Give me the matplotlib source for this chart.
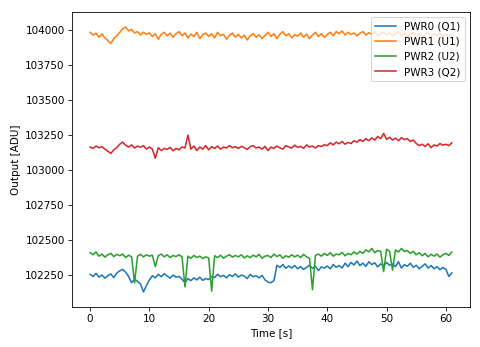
import matplotlib.pyplot as plt
import numpy as np

# samples every 0.5 s
pwr0 = [102255, 102240, 102262, 102235, 102250, 102228, 102245, 102258, 102232, 102265,
        102280, 102290, 102270, 102240, 102195, 102220, 102205, 102185, 102130, 102175,
        102215, 102245, 102230, 102255, 102238, 102260, 102242, 102228, 102250, 102235,
        102240, 102220, 102195, 102225, 102210, 102230, 102215, 102235, 102212, 102225,
        102218, 102240, 102232, 102255, 102238, 102248, 102230, 102252, 102240, 102258,
        102235, 102250, 102242, 102225, 102255, 102238, 102245, 102230, 102248, 102215,
        102200, 102195, 102210, 102320, 102305, 102325, 102298, 102315, 102300, 102318,
        102295, 102310, 102290, 102305, 102320, 102298, 102312, 102282, 102308, 102300,
        102315, 102295, 102325, 102305, 102318, 102300, 102335, 102310, 102340, 102322,
        102350, 102318, 102335, 102312, 102345, 102325, 102338, 102308, 102330, 102315,
        102340, 102320, 102330, 102310, 102345, 102300, 102325, 102312, 102335, 102305,
        102320, 102295, 102312, 102330, 102300, 102318, 102295, 102310, 102288, 102305,
        102290, 102240, 102265]

pwr1 = [103985, 103965, 103978, 103950, 103972, 103945, 103925, 103905, 103940, 103960,
        103985, 104010, 104022, 103995, 104005, 103980, 103990, 103965, 103985, 103970,
        103980, 103955, 103975, 103935, 103970, 103985, 103960, 103978, 103950, 103975,
        103990, 103960, 103980, 103945, 103972, 103955, 103985, 103940, 103968, 103980,
        103955, 103975, 103945, 103985, 103960, 103970, 103935, 103965, 103980, 103950,
        103970, 103945, 103965, 103930, 103960, 103975, 103950, 103968, 103940, 103962,
        103985, 103955, 103975, 103940, 103970, 103990, 103960, 103975, 103945, 103968,
        103958, 103980, 103950, 103972, 103940, 103965, 103985, 103955, 103975, 103948,
        103970, 103985, 103960, 103990, 103975, 103995, 103965, 103985, 103970, 103980,
        103960, 103978, 103990, 103965, 103982, 103970, 103988, 103960, 103975, 103985,
        103965, 103980, 103958, 103975, 103990, 103962, 103978, 103955, 103972, 103985,
        103960, 103975, 103950, 103970, 103985, 103958, 103975, 103962, 103980, 103955,
        103970, 103960, 103975]

pwr2 = [102410, 102395, 102415, 102385, 102400, 102378, 102395, 102405, 102382, 102398,
        102388, 102400, 102375, 102392, 102380, 102195, 102385, 102398, 102380, 102395,
        102385, 102392, 102310, 102388, 102400, 102380, 102395, 102375, 102390, 102382,
        102395, 102380, 102165, 102385, 102370, 102390, 102375, 102385, 102368, 102380,
        102372, 102135, 102388, 102375, 102392, 102370, 102385, 102395, 102378, 102390,
        102380, 102395, 102372, 102388, 102375, 102392, 102380, 102398, 102370, 102385,
        102390, 102375, 102400, 102382, 102395, 102370, 102388, 102378, 102395, 102380,
        102392, 102375, 102398, 102380, 102370, 102145, 102390, 102400, 102385, 102405,
        102390, 102410, 102385, 102400, 102395, 102412, 102388, 102405, 102395, 102415,
        102400, 102420, 102405, 102430, 102415, 102440, 102410, 102425, 102420, 102275,
        102435, 102420, 102285, 102430, 102415, 102440, 102418, 102425, 102405, 102420,
        102395, 102410, 102388, 102405, 102380, 102398, 102385, 102400, 102378, 102395,
        102405, 102390, 102415]

pwr3 = [103165, 103155, 103172, 103160, 103168, 103150, 103135, 103120, 103145, 103160,
        103185, 103200, 103178, 103165, 103180, 103158, 103172, 103162, 103175, 103150,
        103165, 103150, 103085, 103160, 103140, 103155, 103148, 103162, 103138, 103155,
        103145, 103165, 103158, 103250, 103150, 103172, 103140, 103165, 103150, 103175,
        103145, 103168, 103155, 103172, 103150, 103165, 103158, 103175, 103160, 103168,
        103155, 103170, 103160, 103148, 103168, 103175, 103158, 103165, 103150, 103170,
        103140, 103165, 103155, 103172, 103160, 103150, 103175, 103165, 103158, 103178,
        103162, 103170, 103155, 103180, 103165, 103172, 103158, 103175, 103168, 103182,
        103175, 103195, 103180, 103200, 103188, 103205, 103185, 103198, 103190, 103210,
        103200, 103218, 103205, 103225, 103210, 103230, 103215, 103240, 103225, 103262,
        103220, 103235, 103215, 103228, 103210, 103232, 103218, 103225, 103205, 103215,
        103190, 103175, 103185, 103170, 103188, 103160, 103180, 103172, 103190, 103178,
        103185, 103175, 103195]

labels = ["PWR0 (Q1)", "PWR1 (U1)", "PWR2 (U2)", "PWR3 (Q2)"]
time = np.linspace(0, 61, len(pwr0))

fig = plt.figure(figsize=(6.4, 347 / 75), dpi=75)
ax = fig.add_axes([0.15, 0.115, 0.829, 0.85])

for series, lab in zip([pwr0, pwr1, pwr2, pwr3], labels):
    ax.plot(time, series, label=lab)

ax.set_ylim(102021, 104129)
ax.set_yticks(np.arange(102250, 104001, 250))
ax.set_xlabel("Time [s]")
ax.set_ylabel("Output [ADU]")
ax.legend(loc="upper right")

fig.savefig("out.png", dpi=75)
